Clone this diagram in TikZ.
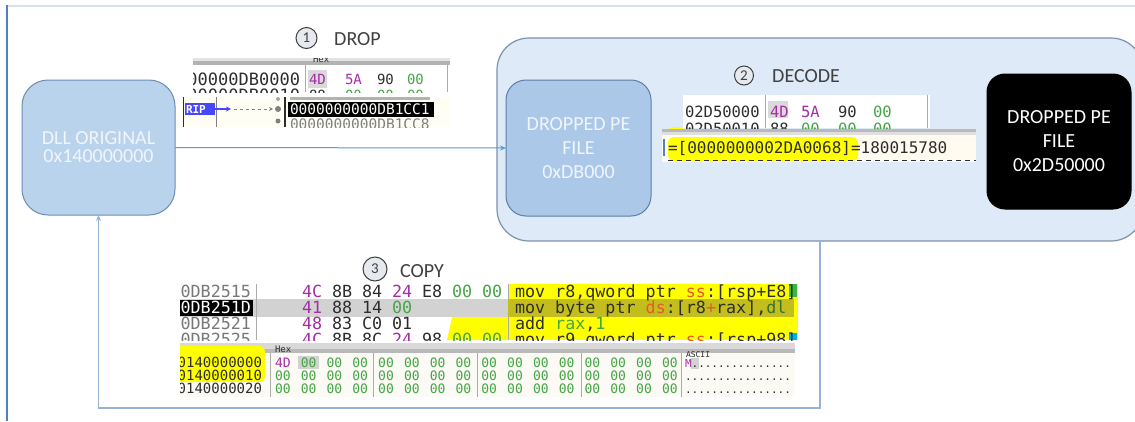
\documentclass[tikz,border=0pt]{standalone}
\usepackage{fontspec}
\setmainfont{Carlito}
\newfontfamily\dbgmono{DejaVu Sans Mono}
\usetikzlibrary{arrows.meta}
\definecolor{framebl}{RGB}{79,129,189}
\definecolor{topln}{RGB}{214,224,242}
\definecolor{dllfill}{RGB}{186,211,237}
\definecolor{dllbord}{RGB}{110,140,180}
\definecolor{contfill}{RGB}{222,234,247}
\definecolor{contbord}{RGB}{125,145,175}
\definecolor{pefill}{RGB}{172,200,232}
\definecolor{peborder}{RGB}{95,125,165}
\definecolor{boxtext}{RGB}{240,245,251}
\definecolor{flowcol}{RGB}{91,155,213}
\definecolor{retcol}{RGB}{150,178,214}
\definecolor{lbl}{RGB}{64,64,64}
\definecolor{numfill}{RGB}{230,233,238}
\definecolor{dpur}{RGB}{165,45,165}
\definecolor{dgrn}{RGB}{70,165,70}
\definecolor{ddark}{RGB}{45,45,45}
\definecolor{dgry}{RGB}{120,120,120}
\definecolor{dred}{RGB}{230,90,40}
\definecolor{hlyel}{RGB}{255,255,0}
\definecolor{hlolive}{RGB}{195,190,30}
\definecolor{ripblue}{RGB}{70,70,250}
\definecolor{cream}{RGB}{255,251,240}
\definecolor{dumpbg}{RGB}{251,250,245}
\begin{document}
\begin{tikzpicture}[x=1pt,y=-1pt,
  box/.style={draw=dllbord, line width=1pt, fill=dllfill, text=boxtext, align=center, inner sep=0pt, outer sep=0pt},
  num/.style={circle, draw=lbl, fill=numfill, line width=1pt, inner sep=0pt, text=lbl, font=\fontsize{15}{15}\selectfont},
  lab/.style={anchor=base west, inner sep=0pt, text=lbl, font=\fontsize{20}{20}\selectfont},
  mn/.style={inner sep=0pt, outer sep=0pt, anchor=base west},
  sA/.style={font=\dbgmono\fontsize{17}{17}\selectfont},
  sB/.style={font=\dbgmono\fontsize{14}{14}\selectfont},
  sC/.style={font=\dbgmono\fontsize{14.5}{14.5}\selectfont},
  sD/.style={font=\dbgmono\fontsize{15.5}{15.5}\selectfont},
  sE/.style={font=\dbgmono\fontsize{16}{16}\selectfont},
  sF/.style={font=\dbgmono\fontsize{16.7}{16.7}\selectfont},
  sG/.style={font=\dbgmono\fontsize{13}{13}\selectfont},
  sH/.style={font=\dbgmono\fontsize{11}{11}\selectfont},
  flow/.style={draw=flowcol, line width=1pt, -{Stealth[length=6pt,width=5pt]}},
  ret/.style={draw=retcol, line width=1.2pt, -{Stealth[length=6pt,width=5pt]}},
  sep/.style={draw=gray!65, line width=1pt}
]
\useasboundingbox (0,0) rectangle (1135,421);
\fill[white] (0,0) rectangle (1135,421);
% frame
\draw[topln, line width=1.3pt] (8,6) -- (1135,6);
\draw[framebl, line width=2.2pt] (7,5) -- (7,421);

% container
\node[draw=contbord, fill=contfill, line width=1.2pt, rounded corners=32pt, minimum width=646pt, minimum height=203pt, inner sep=0pt, outer sep=0pt] (cont) at (820,139.5) {};

% main boxes
\node[box, minimum width=153pt, minimum height=135pt, rounded corners=26pt, font=\fontsize{20}{18}\selectfont] (dll) at (98.5,147.5) {DLL ORIGINAL\\0x140000000};
\node[box, fill=pefill, draw=peborder, minimum width=145pt, minimum height=136pt, rounded corners=20pt, font=\fontsize{20}{24}\selectfont] (pe1) at (578.5,148) {DROPPED PE\\FILE\\0xDB000};
\node[box, fill=black, draw=black, text=white, minimum width=144pt, minimum height=135pt, rounded corners=18pt, font=\fontsize{20}{24}\selectfont] (pe2) at (1059,141.5) {DROPPED PE\\FILE\\0x2D50000};

% connectors
\draw[flow] (dll.east) -- (pe1.west);
\coordinate (rb) at (820,408);
\draw[ret] (cont.south) -- (rb) -| (dll.south);

% step labels
\node[num, minimum size=21pt] (n1) at (306.5,38) {1};
\node[lab] (t1) at (334,45) {DROP};
\node[num, minimum size=19pt] (n2) at (744,75.5) {2};
\node[lab] (t2) at (772,82) {DECODE};
\node[num, minimum size=24pt] (n3) at (375,269) {3};
\node[lab] (t3) at (400,277) {COPY};

% ---------- screenshot 1 (upper) ----------
\begin{scope}
\clip (193,58) rectangle (450,92);
\fill[white] (193,58) rectangle (450,92);
\fill[gray!22] (193,58) rectangle (450,61);
\fill[gray!60] (193,61) rectangle (450,65);
\node[mn, font=\dbgmono\fontsize{9}{9}\selectfont, text=ddark] (h1) at (313,62) {Hex};
\draw[sep] (305,65) -- (305,92);
\draw[sep] (447,65) -- (447,92);
\fill[gray!30] (308,70) rectangle (327,88);
\node[mn, sA, text=ddark, anchor=base east] (a1) at (300,85) {00000DB0000};
\node[mn, sB, text=dpur] (b11) at (309,84) {4D};
\node[mn, sB, text=dpur] (b12) at (345,84) {5A};
\node[mn, sB, text=ddark] (b13) at (377,84) {90};
\node[mn, sB, text=dgrn] (b14) at (407,84) {00};
\node[mn, sA, text=ddark, anchor=base east] (a2) at (300,101) {00000DB0010};
\node[mn, sB, text=ddark] (b21) at (309,100) {88};
\node[mn, sB, text=dgrn] (b22) at (345,100) {00};
\node[mn, sB, text=dgrn] (b23) at (377,100) {00};
\node[mn, sB, text=dgrn] (b24) at (407,100) {00};
\end{scope}

% ---------- screenshot 1 (lower) ----------
\begin{scope}
\clip (182,97) rectangle (450,127);
\fill[white!96!yellow] (182,97) rectangle (450,127);
\draw[ddark, line width=1.6pt] (183.5,97) -- (183.5,127);
\draw[gray, line width=1pt] (216,97) -- (216,127);
\draw[ddark, line width=1.2pt] (285,97) -- (285,127);
\fill[ripblue] (185,103) rectangle (215,115);
\node[mn, font=\dbgmono\bfseries\fontsize{11}{11}\selectfont, text=white] (rip) at (186,113.5) {RIP};
\draw[ripblue, line width=1.5pt, -{Stealth[length=5pt,width=5pt]}] (215,109) -- (231,109);
\draw[gray, line width=0.8pt, dashed, -{Stealth[length=4pt,width=4pt]}] (234,109) -- (273,109);
\fill[gray] (278,109) circle (3);
\fill[gray!70] (278,99) circle (2);
\fill[gray] (278,121) circle (2.5);
\fill[black] (288,102) rectangle (434,117);
\fill[gray!60] (290,97) rectangle (430,99.5);
\node[mn, sC, text=white] (c1) at (290,114) {0000000000DB1CC1};
\node[mn, sC, text=gray] (c2) at (290,129.5) {0000000000DB1CC8};
\end{scope}

% ---------- screenshot 2 (upper) ----------
\begin{scope}
\clip (683,95) rectangle (930,128);
\fill[white] (683,95) rectangle (930,128);
\draw[sep] (765,95) -- (765,128);
\draw[sep] (927,95) -- (927,128);
\fill[gray!30] (768,101) rectangle (788,118);
\node[mn, sD, text=ddark] (e1) at (685,117) {02D50000};
\node[mn, sD, text=dpur] (e11) at (770,117) {4D};
\node[mn, sD, text=dpur] (e12) at (801,117) {5A};
\node[mn, sD, text=ddark] (e13) at (838,117) {90};
\node[mn, sD, text=dgrn] (e14) at (873,117) {00};
\node[mn, sD, text=ddark] (e2) at (685,134) {02D50010};
\node[mn, sD, text=ddark] (e21) at (770,134) {88};
\node[mn, sD, text=dgrn] (e22) at (801,134) {00};
\node[mn, sD, text=dgrn] (e23) at (838,134) {00};
\node[mn, sD, text=dgrn] (e24) at (873,134) {00};
\end{scope}

% ---------- screenshot 2 (lower) ----------
\fill[hlyel, rounded corners=4pt] (668,127) rectangle (684,140);
\begin{scope}
\clip (662,129) rectangle (976,162);
\fill[cream] (662,129) rectangle (976,162);
\fill[gray!55] (662,129) rectangle (976,132);
\fill[gray!25] (662,132) rectangle (976,135);
\fill[hlyel, rounded corners=6pt] (668,137) rectangle (858,161);
\draw[framebl, line width=1.5pt] (664,139) -- (664,156);
\node[mn, sE, text=ddark] (f1) at (668,153) {=[0000000002DA0068]=180015780};
\draw[ddark, line width=1.5pt, dash pattern=on 5pt off 4pt] (668,160.5) -- (976,160.5);
\end{scope}

% ---------- screenshot 3 (disassembly) ----------
\begin{scope}
\clip (180,284) rectangle (798,340);
\fill[white] (180,284) rectangle (798,340);
\fill[hlyel] (508,284) rectangle (798,340);
\fill[hlyel] (456,300) -- (466,300) -- (468,316) -- (508,316) -- (508,340) -- (447,340) -- cycle;
\fill[gray!35] (180,299) rectangle (508,317);
\fill[hlolive] (508,299) rectangle (794,317);
\fill[dgrn!80!green] (789,284) rectangle (797,297);
\fill[cyan] (789,333) rectangle (797,340);
\draw[sep] (256,284) -- (256,340);
\draw[sep] (508,284) -- (508,299);
\draw[sep] (508,317) -- (508,340);
\fill[black] (180,300) rectangle (253,316);
\node[mn, sF, text=dgry, anchor=base east] (g1) at (251,297) {000DB2515};
\node[mn, sF, text=white, anchor=base east] (g2) at (251,313) {000DB251D};
\node[mn, sF, text=dgry, anchor=base east] (g3) at (251,329) {000DB2521};
\node[mn, sF, text=dgry, anchor=base east] (g4) at (251,345) {000DB2525};
\foreach \b/\col [count=\i from 0] in {4C/dpur,8B/ddark,84/ddark,24/dpur,E8/ddark,00/dgrn,00/dgrn}
  \node[mn, sF, text=\col] (ra\i) at (302+30*\i,297) {\b};
\foreach \b/\col [count=\i from 0] in {41/dpur,88/ddark,14/ddark,00/dgrn}
  \node[mn, sF, text=\col] (rb\i) at (302+30*\i,313) {\b};
\foreach \b/\col [count=\i from 0] in {48/dpur,83/ddark,C0/ddark,01/ddark}
  \node[mn, sF, text=\col] (rc\i) at (302+30*\i,329) {\b};
\foreach \b/\col [count=\i from 0] in {4C/dpur,8B/ddark,8C/ddark,24/dpur,98/ddark,00/dgrn,00/dgrn}
  \node[mn, sF, text=\col] (rd\i) at (302+30*\i,345) {\b};
\node[mn, sF, text=ddark] (i1) at (515,297) {mov r8,qword ptr \textcolor{dred}{ss}:[rsp+E8]};
\node[mn, sF, text=ddark] (i2) at (515,313) {mov byte ptr \textcolor{dred}{ds}:[r8\textcolor{dred}{+}rax],\textcolor{dgrn!70!black}{dl}};
\node[mn, sF, text=ddark] (i3) at (515,329) {add \textcolor{dgrn}{rax},\textcolor{dgrn}{1}};
\node[mn, sF, text=ddark] (i4) at (515,345) {mov r9,qword ptr \textcolor{dred}{ss}:[rsp+98]};
\end{scope}

% ---------- screenshot 3 (dump) ----------
\begin{scope}
\clip (180,343) rectangle (795,397);
\fill[dumpbg] (180,343) rectangle (795,397);
\fill[gray!30] (180,343) rectangle (795,349);
\fill[gray!55] (180,349) rectangle (795,353);
\node[mn, font=\dbgmono\fontsize{9}{9}\selectfont, text=ddark] (hh) at (275,352) {Hex};
\node[mn, font=\dbgmono\fontsize{8}{8}\selectfont, text=ddark] (ha) at (686,357) {ASCII};
\fill[hlyel, rounded corners=5pt] (176,346) rectangle (265,382);
\foreach \xs [count=\k] in {270,373,477,581,681}
  \draw[sep] (\xs,353) -- (\xs,397);
\fill[gray!35] (298,356) rectangle (319,369);
\fill[gray!35] (691,358) rectangle (699,369);
\foreach \r/\yy/\ad in {0/367/0140000000,1/380/0140000010,2/393/0140000020}
  \node[mn, sB, text=ddark, anchor=base east] (ad\r) at (262,\yy) {\ad};
\node[mn, sG, text=dpur] (d0-0) at (275,367) {4D};
\foreach \r/\yy/\cs in {0/367/1,1/380/0,2/393/0}
  \foreach \c in {\cs,...,15}
    \node[mn, sG, text=dgrn] (d\r-\c) at (275+25.8*\c,\yy) {00};
\node[mn, sH, text=ddark] (as0) at (685,367) {\textcolor{dpur}{M}...............};
\node[mn, sH, text=ddark] (as1) at (685,380) {................};
\node[mn, sH, text=ddark] (as2) at (685,393) {................};
\end{scope}
\end{tikzpicture}
\end{document}
